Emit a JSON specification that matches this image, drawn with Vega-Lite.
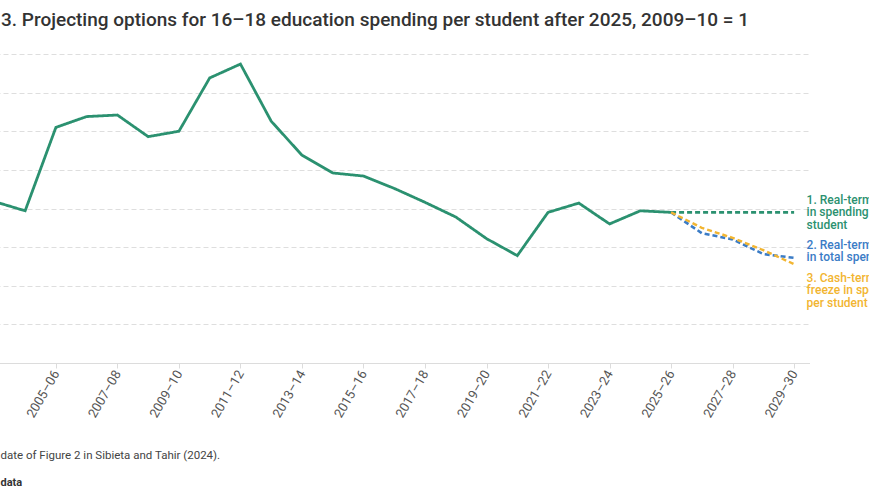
{
  "$schema": "https://vega.github.io/schema/vega-lite/v6.json",
  "autosize": {"type": "none"},
  "width": 830.5,
  "height": 309,
  "padding": {"left": -21, "top": 54, "right": 59.5, "bottom": 141},
  "background": "white",
  "config": {
    "font": "Roboto",
    "view": {"stroke": null}
  },
  "title": {
    "text": "3. Projecting options for 16–18 education spending per student after 2025, 2009–10 = 1",
    "anchor": "start",
    "frame": "group",
    "dx": 22,
    "offset": 4,
    "baseline": "alphabetic",
    "font": "Roboto",
    "fontSize": 19,
    "fontWeight": 500,
    "color": "#333"
  },
  "data": {
    "values": [
      {"year": 2003, "series": "Historical", "value": 0.909},
      {"year": 2004, "series": "Historical", "value": 0.897},
      {"year": 2005, "series": "Historical", "value": 1.005},
      {"year": 2006, "series": "Historical", "value": 1.019},
      {"year": 2007, "series": "Historical", "value": 1.021},
      {"year": 2008, "series": "Historical", "value": 0.993},
      {"year": 2009, "series": "Historical", "value": 1.0},
      {"year": 2010, "series": "Historical", "value": 1.069},
      {"year": 2011, "series": "Historical", "value": 1.087},
      {"year": 2012, "series": "Historical", "value": 1.013},
      {"year": 2013, "series": "Historical", "value": 0.969},
      {"year": 2014, "series": "Historical", "value": 0.946},
      {"year": 2015, "series": "Historical", "value": 0.942},
      {"year": 2016, "series": "Historical", "value": 0.926},
      {"year": 2017, "series": "Historical", "value": 0.908},
      {"year": 2018, "series": "Historical", "value": 0.889},
      {"year": 2019, "series": "Historical", "value": 0.861},
      {"year": 2020, "series": "Historical", "value": 0.839},
      {"year": 2021, "series": "Historical", "value": 0.895},
      {"year": 2022, "series": "Historical", "value": 0.907},
      {"year": 2023, "series": "Historical", "value": 0.880},
      {"year": 2024, "series": "Historical", "value": 0.897},
      {"year": 2025, "series": "Historical", "value": 0.895},
      {"year": 2025, "series": "Per-student freeze", "value": 0.895},
      {"year": 2026, "series": "Per-student freeze", "value": 0.895},
      {"year": 2027, "series": "Per-student freeze", "value": 0.895},
      {"year": 2028, "series": "Per-student freeze", "value": 0.895},
      {"year": 2029, "series": "Per-student freeze", "value": 0.895},
      {"year": 2025, "series": "Total freeze", "value": 0.895},
      {"year": 2026, "series": "Total freeze", "value": 0.868},
      {"year": 2027, "series": "Total freeze", "value": 0.860},
      {"year": 2028, "series": "Total freeze", "value": 0.841},
      {"year": 2029, "series": "Total freeze", "value": 0.836},
      {"year": 2025, "series": "Cash freeze", "value": 0.895},
      {"year": 2026, "series": "Cash freeze", "value": 0.875},
      {"year": 2027, "series": "Cash freeze", "value": 0.862},
      {"year": 2028, "series": "Cash freeze", "value": 0.846},
      {"year": 2029, "series": "Cash freeze", "value": 0.828}
    ]
  },
  "encoding": {
    "x": {
      "field": "year",
      "type": "quantitative",
      "scale": {"domain": [2002.5, 2029.5], "nice": false, "zero": false},
      "axis": {
        "values": [2003, 2005, 2007, 2009, 2011, 2013, 2015, 2017, 2019, 2021, 2023, 2025, 2027, 2029],
        "labelExpr": "datum.value + '–' + slice(toString(datum.value + 1), 2)",
        "labelAngle": -60,
        "labelFontSize": 13,
        "labelColor": "#555",
        "labelPadding": 3,
        "grid": false,
        "domainColor": "#dcdcdc",
        "tickColor": "#dcdcdc",
        "tickSize": 5,
        "title": "date of Figure 2 in Sibieta and Tahir (2024).",
        "titleX": 21,
        "titleY": 92,
        "titleAlign": "left",
        "titleBaseline": "middle",
        "titleFontSize": 11.5,
        "titleFontWeight": "normal",
        "titleColor": "#444"
      }
    },
    "y": {
      "field": "value",
      "type": "quantitative",
      "scale": {"domain": [0.7, 1.1], "nice": false, "zero": false},
      "axis": {
        "values": [0.7, 0.75, 0.8, 0.85, 0.9, 0.95, 1.0, 1.05, 1.1],
        "format": ".2f",
        "domain": false,
        "ticks": false,
        "gridColor": "#dedede",
        "gridDash": [5, 3],
        "gridWidth": 1,
        "labelColor": "#555",
        "title": "data",
        "titleAngle": 0,
        "titleX": 21,
        "titleY": 428,
        "titleAlign": "left",
        "titleBaseline": "middle",
        "titleFontSize": 11,
        "titleFontWeight": "bold",
        "titleColor": "#333"
      }
    }
  },
  "layer": [
    {
      "mark": {"type": "line", "strokeJoin": "miter"},
      "encoding": {
        "color": {
          "field": "series",
          "type": "nominal",
          "scale": {
            "domain": ["Historical", "Per-student freeze", "Total freeze", "Cash freeze"],
            "range": ["#2b9170", "#2b9170", "#3b7cc6", "#f2b531"]
          },
          "legend": null
        },
        "strokeDash": {
          "field": "series",
          "type": "nominal",
          "scale": {
            "domain": ["Historical", "Per-student freeze", "Total freeze", "Cash freeze"],
            "range": [[1, 0], [5, 3], [5, 3], [5, 3]]
          },
          "legend": null
        },
        "strokeWidth": {
          "field": "series",
          "type": "nominal",
          "scale": {
            "domain": ["Historical", "Per-student freeze", "Total freeze", "Cash freeze"],
            "range": [2.8, 2.4, 2.4, 2.4]
          },
          "legend": null
        }
      }
    },
    {
      "transform": [{"filter": "datum.series === 'Per-student freeze' && datum.year === 2029"}],
      "mark": {"type": "text", "align": "left", "baseline": "middle", "dx": 12.5, "dy": -12.5, "fontSize": 12, "fontWeight": 500, "lineHeight": 12.5, "color": "#2b9170"},
      "encoding": {"text": {"value": ["1. Real-terms freeze", "in spending per", "student"]}}
    },
    {
      "transform": [{"filter": "datum.series === 'Total freeze' && datum.year === 2029"}],
      "mark": {"type": "text", "align": "left", "baseline": "middle", "dx": 12.5, "dy": -13, "fontSize": 12, "fontWeight": 500, "lineHeight": 12.5, "color": "#3b7cc6"},
      "encoding": {"text": {"value": ["2. Real-terms freeze", "in total spending"]}}
    },
    {
      "transform": [{"filter": "datum.series === 'Cash freeze' && datum.year === 2029"}],
      "mark": {"type": "text", "align": "left", "baseline": "middle", "dx": 12.5, "dy": 13.5, "fontSize": 12, "fontWeight": 500, "lineHeight": 12.5, "color": "#f2b531"},
      "encoding": {"text": {"value": ["3. Cash-terms", "freeze in spending", "per student"]}}
    }
  ]
}
